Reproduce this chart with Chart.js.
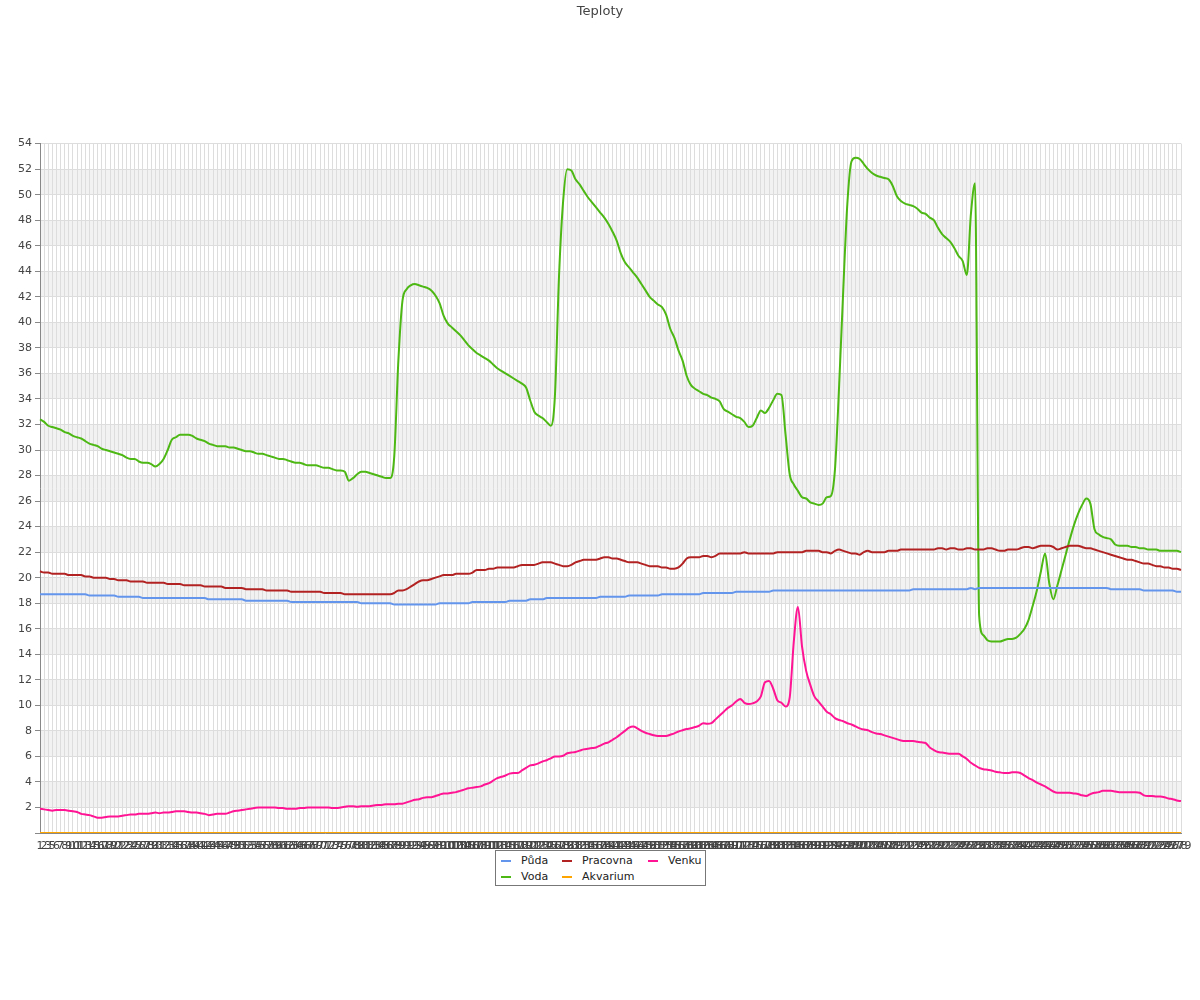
<!DOCTYPE html>
<html>
<head>
<meta charset="utf-8">
<title>Teploty</title>
<script src="https://cdn.jsdelivr.net/npm/chart.js@4/dist/chart.umd.min.js"></script>
<style>
body { margin: 0; background: #fff; font-family: "DejaVu Sans", sans-serif; }
#wrap { position: relative; width: 1200px; height: 1000px; }
#legend {
  position: absolute; left: 495px; top: 850px; width: 209px; height: 34px;
  border: 1px solid #777; background: #fff; font-size: 11px; color: #222;
}
#legend .it { position: absolute; height: 14px; line-height: 14px; white-space: nowrap; }
#legend .sw { display: inline-block; width: 10px; height: 2px; vertical-align: middle; margin-right: 10px; }
</style>
</head>
<body>
<div id="wrap">
  <canvas id="myChart" width="1200" height="1000"></canvas>
  <div id="legend"></div>
</div>
<script>
// kategorie (mereni), cislo 4 chybi
let labels = []
for (let n = 1; labels.length < 278; n++) {
        if (n != 4) labels.push(String(n))
}

let puda = [
 18.7,18.7,18.7,18.7,18.7,18.7,18.7,18.7,18.7,18.7,
 18.7,18.7,18.6,18.6,18.6,18.6,18.6,18.6,18.6,18.5,
 18.5,18.5,18.5,18.5,18.5,18.4,18.4,18.4,18.4,18.4,
 18.4,18.4,18.4,18.4,18.4,18.4,18.4,18.4,18.4,18.4,
 18.4,18.3,18.3,18.3,18.3,18.3,18.3,18.3,18.3,18.3,
 18.2,18.2,18.2,18.2,18.2,18.2,18.2,18.2,18.2,18.2,
 18.2,18.1,18.1,18.1,18.1,18.1,18.1,18.1,18.1,18.1,
 18.1,18.1,18.1,18.1,18.1,18.1,18.1,18.1,18.0,18.0,
 18.0,18.0,18.0,18.0,18.0,18.0,17.9,17.9,17.9,17.9,
 17.9,17.9,17.9,17.9,17.9,17.9,17.9,18.0,18.0,18.0,
 18.0,18.0,18.0,18.0,18.0,18.1,18.1,18.1,18.1,18.1,
 18.1,18.1,18.1,18.1,18.2,18.2,18.2,18.2,18.2,18.3,
 18.3,18.3,18.3,18.4,18.4,18.4,18.4,18.4,18.4,18.4,
 18.4,18.4,18.4,18.4,18.4,18.4,18.5,18.5,18.5,18.5,
 18.5,18.5,18.5,18.6,18.6,18.6,18.6,18.6,18.6,18.6,
 18.6,18.7,18.7,18.7,18.7,18.7,18.7,18.7,18.7,18.7,
 18.7,18.8,18.8,18.8,18.8,18.8,18.8,18.8,18.8,18.9,
 18.9,18.9,18.9,18.9,18.9,18.9,18.9,18.9,19.0,19.0,
 19.0,19.0,19.0,19.0,19.0,19.0,19.0,19.0,19.0,19.0,
 19.0,19.0,19.0,19.0,19.0,19.0,19.0,19.0,19.0,19.0,
 19.0,19.0,19.0,19.0,19.0,19.0,19.0,19.0,19.0,19.0,
 19.0,19.0,19.1,19.1,19.1,19.1,19.1,19.1,19.1,19.1,
 19.1,19.1,19.1,19.1,19.1,19.1,19.2,19.1,19.2,19.2,
 19.2,19.2,19.2,19.2,19.2,19.2,19.2,19.2,19.2,19.2,
 19.2,19.2,19.2,19.2,19.2,19.2,19.2,19.2,19.2,19.2,
 19.2,19.2,19.2,19.2,19.2,19.2,19.2,19.2,19.2,19.2,
 19.1,19.1,19.1,19.1,19.1,19.1,19.1,19.1,19.0,19.0,
 19.0,19.0,19.0,19.0,19.0,19.0,18.9,18.9
]

let voda = [
 32.4,32.2,31.9,31.8,31.7,31.6,31.4,31.3,31.1,31.0,
 30.9,30.7,30.5,30.4,30.3,30.1,30.0,29.9,29.8,29.7,
 29.6,29.4,29.3,29.3,29.1,29.0,29.0,28.9,28.7,28.9,
 29.3,30.0,30.8,31.0,31.2,31.2,31.2,31.1,30.9,30.8,
 30.7,30.5,30.4,30.3,30.3,30.3,30.2,30.2,30.1,30.0,
 29.9,29.9,29.8,29.7,29.7,29.6,29.5,29.4,29.3,29.3,
 29.2,29.1,29.0,29.0,28.9,28.8,28.8,28.8,28.7,28.6,
 28.6,28.5,28.4,28.4,28.3,27.6,27.8,28.1,28.3,28.3,
 28.2,28.1,28.0,27.9,27.8,27.8,29.5,37.0,41.7,42.6,
 42.9,43.0,42.9,42.8,42.7,42.5,42.1,41.5,40.5,39.9,
 39.6,39.3,39.0,38.6,38.2,37.9,37.6,37.4,37.2,37.0,
 36.7,36.4,36.2,36.0,35.8,35.6,35.4,35.2,34.9,33.9,
 33.0,32.7,32.5,32.2,31.9,34.2,43.6,49.5,52.0,51.9,
 51.2,50.8,50.3,49.8,49.4,49.0,48.6,48.2,47.7,47.1,
 46.4,45.4,44.7,44.3,43.9,43.5,43.0,42.5,42.0,41.7,
 41.4,41.2,40.6,39.5,38.8,37.8,37.0,35.8,35.1,34.8,
 34.6,34.4,34.3,34.1,34.0,33.8,33.2,33.0,32.8,32.6,
 32.5,32.2,31.8,31.9,32.5,33.1,32.9,33.3,33.9,34.4,
 34.3,31.2,28.1,27.3,26.8,26.3,26.2,25.9,25.8,25.7,
 25.8,26.3,26.4,28.5,35.0,42.5,49.3,52.6,52.9,52.8,
 52.4,52.0,51.7,51.5,51.4,51.3,51.2,50.7,49.9,49.5,
 49.3,49.2,49.1,48.9,48.6,48.5,48.2,48.0,47.4,46.9,
 46.6,46.3,45.8,45.2,44.8,43.7,48.5,50.9,17.0,15.5,
 15.1,15.0,15.0,15.0,15.1,15.2,15.2,15.3,15.6,16.0,
 16.7,17.8,19.0,20.5,21.9,19.6,18.3,19.4,20.6,21.8,
 23.0,24.1,25.0,25.7,26.2,25.8,23.8,23.4,23.2,23.1,
 23.0,22.6,22.5,22.5,22.5,22.4,22.4,22.3,22.3,22.2,
 22.2,22.2,22.1,22.1,22.1,22.1,22.1,22.0
]

let pracovna = [
 20.5,20.4,20.4,20.3,20.3,20.3,20.3,20.2,20.2,20.2,
 20.2,20.1,20.1,20.0,20.0,20.0,20.0,19.9,19.9,19.8,
 19.8,19.8,19.7,19.7,19.7,19.7,19.6,19.6,19.6,19.6,
 19.6,19.5,19.5,19.5,19.5,19.4,19.4,19.4,19.4,19.4,
 19.3,19.3,19.3,19.3,19.3,19.2,19.2,19.2,19.2,19.2,
 19.1,19.1,19.1,19.1,19.1,19.0,19.0,19.0,19.0,19.0,
 19.0,18.9,18.9,18.9,18.9,18.9,18.9,18.9,18.9,18.8,
 18.8,18.8,18.8,18.8,18.7,18.7,18.7,18.7,18.7,18.7,
 18.7,18.7,18.7,18.7,18.7,18.7,18.8,19.0,19.0,19.1,
 19.3,19.5,19.7,19.8,19.8,19.9,20.0,20.1,20.2,20.2,
 20.2,20.3,20.3,20.3,20.3,20.4,20.6,20.6,20.6,20.7,
 20.7,20.8,20.8,20.8,20.8,20.8,20.9,21.0,21.0,21.0,
 21.0,21.1,21.2,21.2,21.2,21.1,21.0,20.9,20.9,21.0,
 21.2,21.3,21.4,21.4,21.4,21.4,21.5,21.6,21.6,21.5,
 21.5,21.4,21.3,21.2,21.2,21.2,21.1,21.0,20.9,20.9,
 20.9,20.8,20.8,20.7,20.7,20.8,21.1,21.5,21.6,21.6,
 21.6,21.7,21.7,21.6,21.7,21.9,21.9,21.9,21.9,21.9,
 21.9,22.0,21.9,21.9,21.9,21.9,21.9,21.9,21.9,22.0,
 22.0,22.0,22.0,22.0,22.0,22.0,22.1,22.1,22.1,22.1,
 22.0,22.0,21.9,22.1,22.2,22.1,22.0,21.9,21.9,21.8,
 22.0,22.1,22.0,22.0,22.0,22.0,22.1,22.1,22.1,22.2,
 22.2,22.2,22.2,22.2,22.2,22.2,22.2,22.2,22.3,22.3,
 22.2,22.3,22.3,22.2,22.2,22.3,22.3,22.2,22.2,22.2,
 22.3,22.3,22.2,22.1,22.1,22.2,22.2,22.2,22.3,22.4,
 22.4,22.3,22.4,22.5,22.5,22.5,22.4,22.2,22.3,22.4,
 22.5,22.5,22.5,22.4,22.3,22.3,22.2,22.1,22.0,21.9,
 21.8,21.7,21.6,21.5,21.4,21.4,21.3,21.2,21.1,21.1,
 21.0,20.9,20.9,20.8,20.8,20.7,20.7,20.6
]

let akvarium = [
 0,0,0,0,0,0,0,0,0,0, 0,0,0,0,0,0,0,0,0,0,
 0,0,0,0,0,0,0,0,0,0, 0,0,0,0,0,0,0,0,0,0,
 0,0,0,0,0,0,0,0,0,0, 0,0,0,0,0,0,0,0,0,0,
 0,0,0,0,0,0,0,0,0,0, 0,0,0,0,0,0,0,0,0,0,
 0,0,0,0,0,0,0,0,0,0, 0,0,0,0,0,0,0,0,0,0,
 0,0,0,0,0,0,0,0,0,0, 0,0,0,0,0,0,0,0,0,0,
 0,0,0,0,0,0,0,0,0,0, 0,0,0,0,0,0,0,0,0,0,
 0,0,0,0,0,0,0,0,0,0, 0,0,0,0,0,0,0,0,0,0,
 0,0,0,0,0,0,0,0,0,0, 0,0,0,0,0,0,0,0,0,0,
 0,0,0,0,0,0,0,0,0,0, 0,0,0,0,0,0,0,0,0,0,
 0,0,0,0,0,0,0,0,0,0, 0,0,0,0,0,0,0,0,0,0,
 0,0,0,0,0,0,0,0,0,0, 0,0,0,0,0,0,0,0,0,0,
 0,0,0,0,0,0,0,0,0,0, 0,0,0,0,0,0,0,0,0,0,
 0,0,0,0,0,0,0,0,0,0, 0,0,0,0,0,0,0,0
]

let venku = [
 1.9,1.85,1.8,1.75,1.8,1.8,1.8,1.75,1.7,1.65,
 1.5,1.45,1.4,1.3,1.2,1.2,1.25,1.3,1.3,1.3,
 1.35,1.4,1.45,1.45,1.5,1.5,1.5,1.55,1.6,1.55,
 1.6,1.6,1.65,1.7,1.7,1.7,1.65,1.6,1.6,1.55,
 1.5,1.4,1.45,1.5,1.5,1.5,1.6,1.7,1.75,1.8,
 1.85,1.9,1.95,2.0,2.0,2.0,2.0,2.0,1.95,1.95,
 1.9,1.9,1.9,1.95,1.95,2.0,2.0,2.0,2.0,2.0,
 2.0,1.95,1.95,2.0,2.05,2.1,2.1,2.05,2.1,2.1,
 2.1,2.15,2.2,2.2,2.25,2.25,2.25,2.3,2.3,2.4,
 2.5,2.6,2.65,2.75,2.8,2.8,2.9,3.0,3.1,3.1,
 3.15,3.2,3.3,3.4,3.5,3.55,3.6,3.65,3.8,3.9,
 4.1,4.3,4.4,4.5,4.65,4.7,4.7,4.9,5.1,5.3,
 5.35,5.45,5.6,5.7,5.85,6.0,6.0,6.05,6.25,6.3,
 6.35,6.45,6.55,6.6,6.65,6.7,6.85,7.0,7.1,7.3,
 7.5,7.75,8.0,8.25,8.35,8.2,8.0,7.85,7.75,7.65,
 7.6,7.6,7.6,7.7,7.8,7.95,8.05,8.15,8.2,8.3,
 8.4,8.6,8.55,8.6,8.9,9.2,9.5,9.8,10.0,10.3,
 10.5,10.2,10.1,10.15,10.3,10.7,11.8,11.9,11.3,10.4,
 10.2,9.9,10.6,15.0,17.7,14.6,12.7,11.6,10.7,10.3,
 9.9,9.5,9.3,9.0,8.85,8.75,8.6,8.5,8.35,8.2,
 8.1,8.05,7.9,7.8,7.75,7.65,7.55,7.45,7.35,7.25,
 7.2,7.2,7.2,7.15,7.1,7.05,6.7,6.5,6.35,6.3,
 6.25,6.2,6.2,6.2,6.0,5.8,5.5,5.3,5.1,5.0,
 4.95,4.9,4.8,4.75,4.7,4.7,4.75,4.75,4.7,4.5,
 4.3,4.15,3.95,3.8,3.65,3.45,3.25,3.15,3.15,3.15,
 3.15,3.1,3.05,2.95,2.9,3.05,3.15,3.2,3.3,3.3,
 3.3,3.25,3.2,3.2,3.2,3.2,3.2,3.15,2.95,2.9,
 2.9,2.85,2.85,2.8,2.7,2.65,2.55,2.5
]

let colors = {
        puda: "#6495ed",
        voda: "#4db814",
        pracovna: "#b22222",
        akvarium: "#ffa500",
        venku: "#ff1493"
}

// sede pruhy mezi 2-4, 6-8, ... 50-52
const bands = {
        id: "bands",
        beforeDraw(chart) {
                let ctx = chart.ctx
                let area = chart.chartArea
                let y = chart.scales.y
                ctx.save()
                ctx.fillStyle = "#f2f2f2"
                for (let v = 2; v < 54; v += 4) {
                        let top = y.getPixelForValue(v + 2)
                        let bot = y.getPixelForValue(v)
                        ctx.fillRect(area.left, top, area.right - area.left, bot - top)
                }
                ctx.restore()
        }
}

function ds(label, data, color) {
        return {
                label: label,
                data: data,
                borderColor: color,
                backgroundColor: color,
                borderWidth: 2,
                pointRadius: 0,
                cubicInterpolationMode: "monotone",
                fill: false
        }
}

let myChart = new Chart(document.getElementById("myChart"), {
        type: "line",
        data: {
                labels: labels,
                datasets: [
                        ds("Půda", puda, colors.puda),
                        ds("Pracovna", pracovna, colors.pracovna),
                        ds("Venku", venku, colors.venku),
                        ds("Voda", voda, colors.voda),
                        ds("Akvarium", akvarium, colors.akvarium)
                ]
        },
        options: {
                responsive: false,
                animation: false,
                layout: { padding: 0 },
                plugins: {
                        legend: { display: false },
                        tooltip: { enabled: false },
                        title: {
                                display: true,
                                text: "Teploty",
                                color: "#444",
                                font: { family: "DejaVu Sans", size: 13, weight: "normal" },
                                padding: { top: 4, bottom: 124 }
                        }
                },
                scales: {
                        x: {
                                grid: { color: "#dddddd", drawTicks: false },
                                border: { color: "#888" },
                                ticks: {
                                        autoSkip: false,
                                        maxRotation: 0,
                                        minRotation: 0,
                                        padding: 7,
                                        color: "#444",
                                        font: { family: "DejaVu Sans", size: 11 }
                                },
                                afterFit(scale) { scale.height = 167 }
                        },
                        y: {
                                min: 0,
                                max: 54,
                                grid: {
                                        color: c => (c.tick && c.tick.value % 2 == 0) ? "#dddddd" : "rgba(0,0,0,0)",
                                        tickColor: "#888",
                                        tickLength: 5
                                },
                                border: { color: "#888" },
                                ticks: {
                                        stepSize: 1,
                                        padding: 3,
                                        color: "#444",
                                        font: { family: "DejaVu Sans", size: 11 },
                                        callback: v => (v % 2 == 0 && v > 0) ? v : ""
                                },
                                afterFit(scale) { scale.width = 40 }
                        },
                        // prazdny pravy okraj, aby byl nadpis uprostred stranky
                        yr: {
                                position: "right",
                                display: true,
                                grid: { display: false },
                                border: { display: false },
                                ticks: { display: false },
                                afterFit(scale) { scale.width = 19 }
                        }
                }
        },
        plugins: [bands]
})

// legenda v ramecku, 3 sloupce
let legendItems = [
        ["Půda", colors.puda, 5, 3],
        ["Pracovna", colors.pracovna, 66, 3],
        ["Venku", colors.venku, 152, 3],
        ["Voda", colors.voda, 5, 19],
        ["Akvarium", colors.akvarium, 66, 19]
]
let lg = document.getElementById("legend")
for (let it of legendItems) {
        let d = document.createElement("div")
        d.className = "it"
        d.style.left = it[2] + "px"
        d.style.top = it[3] + "px"
        d.innerHTML = '<span class="sw" style="background:' + it[1] + '"></span>' + it[0]
        lg.appendChild(d)
}
</script>
</body>
</html>
